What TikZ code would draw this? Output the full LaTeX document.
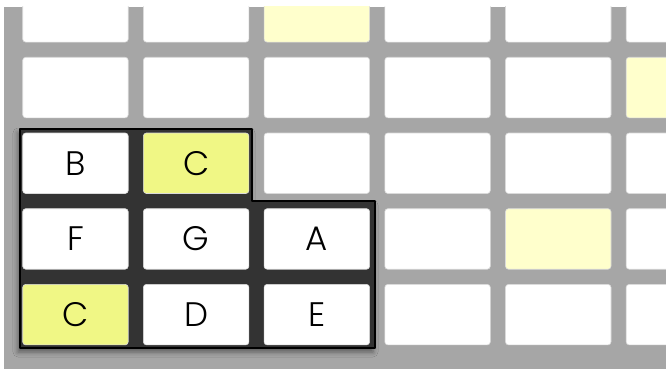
\documentclass[tikz,border=0pt]{standalone}
\usepackage{fontspec}
\setmainfont{Poppins Light}
\usetikzlibrary{shadows.blur}
\definecolor{deck}{HTML}{A6A6A6}
\definecolor{well}{HTML}{333333}
\definecolor{padline}{HTML}{DADADA}
\definecolor{litpad}{HTML}{F0F785}
\definecolor{dimpad}{HTML}{FFFFCC}
\begin{document}
\begin{tikzpicture}[x=1pt,y=-1pt,line join=round,
  pad/.style={fill=white,draw=padline,line width=.6pt,rounded corners=3pt,
    minimum width=105.5pt,minimum height=60.5pt,inner sep=0pt,
    font=\fontsize{34}{34}\selectfont},
  lit/.style={pad,fill=litpad},
  dim/.style={pad,fill=dimpad}]
  \useasboundingbox (0,0) rectangle (666,369);
  \fill[deck] (4,7) rectangle (666,369);
  \clip (4,7) rectangle (666,369);
  % the rest of the grid
  \foreach \c in {0,1,3,4,5} \node[pad] (r0c\c) at ({75.45+120.7*\c},11.85) {};
  \node[dim] (r0c2) at ({75.45+120.7*2},11.85) {};
  \foreach \c in {0,...,4} \node[pad] (r1c\c) at ({75.45+120.7*\c},87.55) {};
  \node[dim] (r1c5) at ({75.45+120.7*5},87.55) {};
  \foreach \c in {2,...,5} \node[pad] (r2c\c) at ({75.45+120.7*\c},163.25) {};
  \foreach \c in {3,5} \node[pad] (r3c\c) at ({75.45+120.7*\c},238.95) {};
  \node[dim] (r3c4) at ({75.45+120.7*4},238.95) {};
  \foreach \c in {3,4,5} \node[pad] (r4c\c) at ({75.45+120.7*\c},314.65) {};
  % the scale
  \filldraw[fill=well,draw=black,line width=2.2pt,
    blur shadow={shadow xshift=-2pt,shadow yshift=-4pt,shadow blur radius=5pt,shadow opacity=45}]
    (20,129) -- (252,129) -- (252,201) -- (375,201) -- (375,348) -- (20,348) -- cycle;
  \node[pad] (b) at (75.45,163.25) {B};
  \node[lit] (c1) at (196.15,163.25) {C};
  \node[pad] (f) at (75.45,238.95) {F};
  \node[pad] (g) at (196.15,238.95) {G};
  \node[pad] (a) at (316.85,238.95) {A};
  \node[lit] (c0) at (75.45,314.65) {C};
  \node[pad] (d) at (196.15,314.65) {D};
  \node[pad] (e) at (316.85,314.65) {E};
\end{tikzpicture}
\end{document}
